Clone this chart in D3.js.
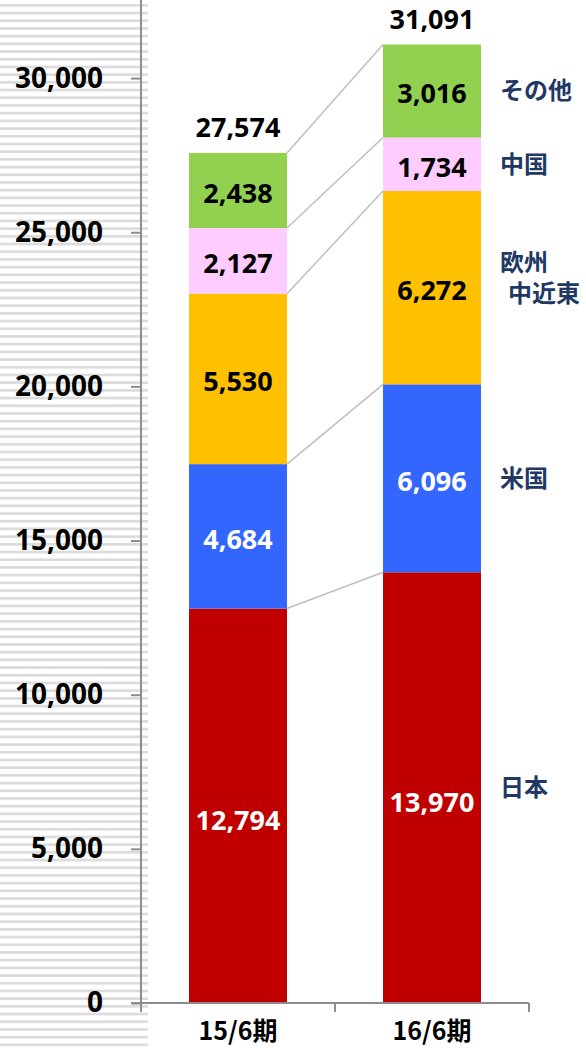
<!DOCTYPE html>
<html>
<head>
<meta charset="utf-8">
<script src="https://cdn.jsdelivr.net/npm/d3@7"></script>
<style>
  body { margin: 0; background: #fff; }
  svg { display: block; }
</style>
</head>
<body>
<div id="chart"></div>
<script>
// Data
const categories = ["15/6期", "16/6期"];
const seriesNames = ["日本", "米国", "欧州中近東", "中国", "その他"];
const seriesLabelLines = [["日本"], ["米国"], ["欧州", "中近東"], ["中国"], ["その他"]];
const values1506 = [12794, 4684, 5530, 2127, 2438];
const values1606 = [13970, 6096, 6272, 1734, 3016];
const totals = [27574, 31091];
const yTicks = [0, 5000, 10000, 15000, 20000, 25000, 30000];

const colors = ["#c00000", "#3366ff", "#ffc000", "#ffccff", "#92d050"];
const labelColors = ["#ffffff", "#ffffff", "#000000", "#000000", "#000000"];

const width = 586;
const height = 1048;
const margin = { top: 1, right: 57, bottom: 45, left: 141 };

const svg = d3.select("#chart")
    .append("svg")
    .attr("width", width)
    .attr("height", height);

// striped background on the left
for (let y = 4; y < height; y += 7.7) {
    svg.append("rect")
        .attr("x", 0)
        .attr("y", y)
        .attr("width", 148)
        .attr("height", 2.7)
        .attr("fill", "#dcdcdc");
}

// build stacked table
const table = categories.map((c, i) => {
    const row = { cat: c };
    const vals = i === 0 ? values1506 : values1606;
    seriesNames.forEach((s, j) => row[s] = vals[j]);
    return row;
});
const stacked = d3.stack().keys(seriesNames)(table);

const x = d3.scaleBand()
    .domain(categories)
    .range([margin.left, width - margin.right]);

const y = d3.scaleLinear()
    .domain([0, 32500])
    .range([height - margin.bottom, margin.top]);

const barW = x.bandwidth() * 0.505;
const barX = c => x(c) + (x.bandwidth() - barW) / 2;

// connector lines between the bars
seriesNames.forEach((s, j) => {
    const layer = stacked[j];
    svg.append("line")
        .attr("x1", barX(categories[0]) + barW).attr("y1", y(layer[0][1]))
        .attr("x2", barX(categories[1])).attr("y2", y(layer[1][1]))
        .attr("stroke", "#bfbfbf")
        .attr("stroke-width", 1.5);
});

// bars
const layers = svg.append("g")
    .selectAll("g")
    .data(stacked)
    .join("g")
    .attr("fill", (d, i) => colors[i]);

layers.selectAll("rect")
    .data(d => d)
    .join("rect")
    .attr("x", d => barX(d.data.cat))
    .attr("y", d => y(d[1]))
    .attr("width", barW)
    .attr("height", d => y(d[0]) - y(d[1]));

// segment labels
stacked.forEach((layer, j) => {
    svg.append("g")
        .selectAll("text")
        .data(layer)
        .join("text")
        .attr("x", d => x(d.data.cat) + x.bandwidth() / 2)
        .attr("y", d => y((d[0] + d[1]) / 2) + (j === 0 ? 15 : 3))
        .attr("dy", "0.35em")
        .attr("text-anchor", "middle")
        .attr("font-family", "'Noto Sans', sans-serif")
        .attr("font-weight", "bold")
        .attr("font-size", 27)
        .attr("fill", labelColors[j])
        .text(d => d3.format(",")(d[1] - d[0]));
});

// totals
svg.append("g")
    .selectAll("text")
    .data(categories)
    .join("text")
    .attr("x", c => x(c) + x.bandwidth() / 2)
    .attr("y", (c, i) => y(stacked[stacked.length - 1][i][1]) - 25)
    .attr("dy", "0.35em")
    .attr("text-anchor", "middle")
    .attr("font-family", "'Noto Sans', sans-serif")
    .attr("font-weight", "bold")
    .attr("font-size", 27)
    .attr("fill", "#000")
    .text((c, i) => d3.format(",")(totals[i]));

// series names at the right
stacked.forEach((layer, j) => {
    const d = layer[1];
    const lines = seriesLabelLines[j];
    const cy = y((d[0] + d[1]) / 2) - (j === 2 ? 10 : 0);
    const t = svg.append("text")
        .attr("font-family", "'Noto Sans CJK JP', sans-serif")
        .attr("font-weight", "bold")
        .attr("font-size", 24)
        .attr("fill", "#1f3864");
    lines.forEach((line, k) => {
        t.append("tspan")
            .attr("x", 500 + (k > 0 ? 8 : 0))
            .attr("y", cy + (k - (lines.length - 1) / 2) * 31)
            .attr("dy", "0.35em")
            .text(line);
    });
});

// y axis
const yAxis = svg.append("g")
    .attr("transform", `translate(${margin.left}, 0)`)
    .call(d3.axisLeft(y).tickValues(yTicks).tickSize(10).tickFormat(d3.format(",")));
yAxis.select(".domain").remove();
yAxis.selectAll(".tick line").attr("stroke", "#8c8c8c").attr("stroke-width", 2);
yAxis.selectAll(".tick text")
    .attr("x", -38)
    .attr("font-family", "'Noto Sans', sans-serif")
    .attr("font-weight", "bold")
    .attr("font-size", 28)
    .attr("fill", "#000");
svg.append("line")
    .attr("x1", margin.left).attr("x2", margin.left)
    .attr("y1", 0).attr("y2", y(0) + 9)
    .attr("stroke", "#8c8c8c").attr("stroke-width", 2);

// x axis
const xAxis = svg.append("g")
    .attr("transform", `translate(0, ${y(0)})`)
    .call(d3.axisBottom(x).tickSize(0));
xAxis.select(".domain").remove();
svg.append("line")
    .attr("x1", 131).attr("x2", width - margin.right)
    .attr("y1", y(0)).attr("y2", y(0))
    .attr("stroke", "#8c8c8c").attr("stroke-width", 2);
categories.forEach(c => {
    svg.append("line")
        .attr("x1", x(c) + x.bandwidth()).attr("x2", x(c) + x.bandwidth())
        .attr("y1", y(0)).attr("y2", y(0) + 9)
        .attr("stroke", "#8c8c8c").attr("stroke-width", 2);
});
xAxis.selectAll(".tick text")
    .attr("y", 28)
    .attr("dy", "0.35em")
    .attr("font-family", "'Noto Sans CJK JP', sans-serif")
    .attr("font-weight", "bold")
    .attr("font-size", 25)
    .attr("fill", "#000");
</script>
</body>
</html>
